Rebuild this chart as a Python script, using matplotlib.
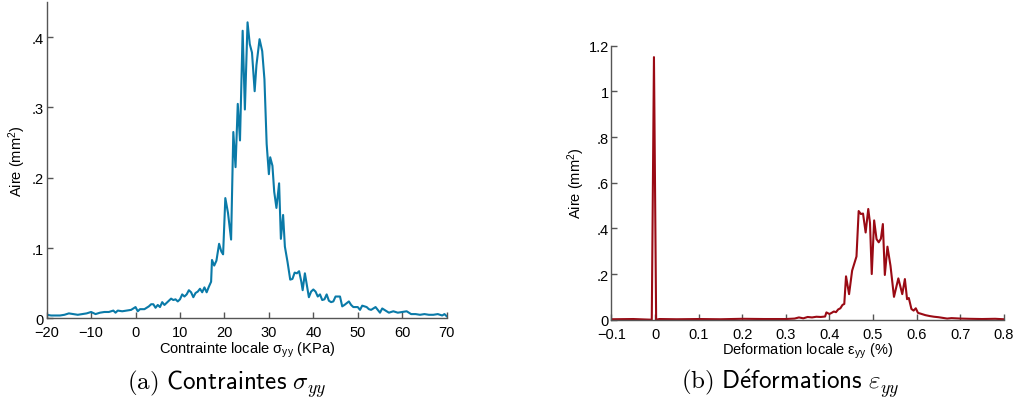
import numpy as np
import matplotlib
matplotlib.use("Agg")
import matplotlib.pyplot as plt

plt.rcParams['font.family'] = ['Liberation Sans', 'DejaVu Sans']
plt.rcParams['mathtext.fontset'] = 'custom'
plt.rcParams['mathtext.rm'] = 'Liberation Sans'
plt.rcParams['mathtext.it'] = 'Liberation Sans:italic'

# (a) contraintes
sig_x = [-20, -19, -18, -17, -16, -15, -14, -13, -12, -11, -10, -9, -8, -7, -6, -5, -4.5, -4, -3, -2, -1,
         0, 0.5, 1, 2, 3, 3.5, 4, 4.5, 5, 5.5, 6, 6.5, 7, 7.5, 8, 8.5, 9, 9.5, 10, 10.5, 11, 11.5,
         12, 12.5, 13, 13.5, 14, 14.5, 15, 15.5, 16, 16.5, 17, 17.2, 17.7, 18.2, 18.8, 19.3, 19.7,
         20.2, 20.8, 21.5, 22.0, 22.5, 23.0, 23.5, 24.1, 24.6, 25.2, 25.7, 26.2, 26.8, 27.2, 27.9,
         28.5, 29.0, 29.5, 30.0, 30.3, 30.8, 31.2, 31.7, 32.3, 32.7, 33.2, 33.6, 34.2, 34.8, 35.3,
         35.8, 36.3, 36.8, 37.3, 37.6, 38.1, 38.6, 39.0, 39.5, 40.0, 40.5, 41.0, 41.5, 42.0, 42.5,
         43.0, 43.5, 44.0, 44.5, 45.0, 46.0, 46.5, 47.0, 48.0, 48.5, 49.0, 50.0, 50.5, 51.0, 52.0,
         52.5, 53.0, 54.0, 54.5, 55.0, 55.5, 56.0, 57.0, 58.0, 59.0, 60.0, 61.0, 62.0, 63.0, 64.0,
         65.0, 66.0, 67.0, 68.0, 69.0, 69.5, 70.0]
sig_y = [0.005, 0.004, 0.004, 0.004, 0.005, 0.007, 0.006, 0.005, 0.006, 0.007, 0.009, 0.006, 0.008,
         0.009, 0.009, 0.011, 0.008, 0.011, 0.010, 0.011, 0.012,
         0.016, 0.010, 0.013, 0.013, 0.017, 0.020, 0.020, 0.015, 0.019, 0.016, 0.023, 0.019, 0.022,
         0.025, 0.028, 0.026, 0.027, 0.024, 0.027, 0.034, 0.031, 0.034,
         0.040, 0.037, 0.030, 0.036, 0.038, 0.042, 0.037, 0.044, 0.037, 0.045, 0.052, 0.083, 0.075,
         0.082, 0.106, 0.095, 0.091,
         0.171, 0.150, 0.112, 0.265, 0.215, 0.305, 0.253, 0.409, 0.297, 0.421, 0.390, 0.378, 0.323,
         0.360, 0.397,
         0.380, 0.340, 0.248, 0.205, 0.229, 0.217, 0.180, 0.157, 0.192, 0.113, 0.147, 0.102, 0.080,
         0.055, 0.056,
         0.065, 0.064, 0.067, 0.052, 0.040, 0.064, 0.045, 0.030, 0.038, 0.041, 0.038, 0.031, 0.034,
         0.026, 0.027,
         0.034, 0.025, 0.023, 0.024, 0.031, 0.031, 0.017, 0.019, 0.024, 0.019, 0.016, 0.016, 0.012,
         0.018, 0.016,
         0.013, 0.012, 0.016, 0.012, 0.008, 0.014, 0.012, 0.008, 0.010, 0.008, 0.009, 0.010, 0.006,
         0.006, 0.005,
         0.006, 0.005, 0.005, 0.006, 0.004, 0.006, 0.003]

# (b) deformations
eps_x = [-0.1, -0.05, -0.0075, -0.0025, 0.0025, 0.01, 0.05, 0.1, 0.15, 0.2, 0.25, 0.3, 0.32, 0.33,
         0.34, 0.35, 0.36, 0.37, 0.38, 0.39, 0.393, 0.40, 0.405, 0.41, 0.415, 0.42, 0.425, 0.43,
         0.434, 0.438, 0.445, 0.452, 0.462, 0.467, 0.472, 0.477, 0.483, 0.489, 0.493, 0.497, 0.5025,
         0.508, 0.513, 0.518, 0.5225, 0.527, 0.533, 0.540, 0.548, 0.558, 0.567, 0.573, 0.578, 0.582,
         0.588, 0.593, 0.598, 0.603, 0.61, 0.62, 0.63, 0.64, 0.65, 0.66, 0.67, 0.68, 0.70, 0.72,
         0.75, 0.78, 0.8]
eps_y = [0.002, 0.003, 0.0, 1.15, 0.0, 0.003, 0.002, 0.003, 0.002, 0.004, 0.003, 0.003, 0.005, 0.010,
         0.006, 0.012, 0.010, 0.013, 0.012, 0.014, 0.032, 0.025, 0.030, 0.036, 0.033, 0.045, 0.050,
         0.065, 0.069, 0.190, 0.112, 0.215, 0.277, 0.476, 0.463, 0.465, 0.382, 0.485, 0.423, 0.200,
         0.435, 0.353, 0.339, 0.355, 0.419, 0.196, 0.320, 0.236, 0.100, 0.181, 0.112, 0.178, 0.090,
         0.095, 0.047, 0.040, 0.050, 0.030, 0.026, 0.020, 0.016, 0.013, 0.011, 0.008, 0.005, 0.007,
         0.005, 0.004, 0.003, 0.004, 0.002]

sig_ticks = [0, 0.1, 0.2, 0.3, 0.4]
sig_labels = ['0', '.1', '.2', '.3', '.4']
eps_ticks = [0, 0.2, 0.4, 0.6, 0.8, 1.0, 1.2]
eps_labels = ['0', '.2', '.4', '.6', '.8', '1', '1.2']
eps_xlabels = ['−0.1', '0', '0.1', '0.2', '0.3', '0.4', '0.5', '0.6', '0.7', '0.8']

spine_col = '#555555'

fig = plt.figure(figsize=(10.14, 4.02), dpi=100)
ax1 = fig.add_axes([0.046, 0.2057, 0.3945, 0.787])
ax2 = fig.add_axes([0.603, 0.2022, 0.387, 0.6816])


def style(ax):
    for s in ['top', 'right']:
        ax.spines[s].set_visible(False)
    for s in ['left', 'bottom']:
        ax.spines[s].set_color(spine_col)
        ax.spines[s].set_linewidth(1.0)
    ax.tick_params(direction='in', length=4, width=1, color=spine_col,
                   labelsize=10.5, labelcolor='black')
    ax.tick_params(axis='x', pad=5)
    ax.tick_params(axis='y', pad=2)


ax1.plot(sig_x, sig_y, color='#0a7aa8', lw=1.5)
ax1.set_xlim(-20, 70)
ax1.set_ylim(0, 0.45)
ax1.set_xticks(np.arange(-20, 71, 10))
ax1.set_yticks(sig_ticks, sig_labels)
style(ax1)
ax1.set_xlabel(r'Contrainte locale σ$_{\mathrm{yy}}$ (KPa)', fontsize=10.5, labelpad=0)
ax1.set_ylabel(r'Aire (mm$^{\mathrm{2}}$)', fontsize=10.5, labelpad=3)

ax2.plot(eps_x, eps_y, color='#9a0a14', lw=1.5)
ax2.set_xlim(-0.1, 0.8)
ax2.set_ylim(0, 1.2)
ax2.set_xticks(np.round(np.arange(-0.1, 0.81, 0.1), 1))
ax2.set_xticklabels(eps_xlabels)
ax2.set_yticks(eps_ticks, eps_labels)
style(ax2)
ax2.set_xlabel(r'Deformation locale ε$_{\mathrm{yy}}$ (%)', fontsize=10.5, labelpad=0)
ax2.set_ylabel(r'Aire (mm$^{\mathrm{2}}$)', fontsize=10.5, labelpad=1)

fig.text(0.224, 0.03, r'$\mathrm{(a)}\ \mathsf{Contraintes}\ \sigma_{yy}$',
         fontsize=18, ha='center', va='baseline', math_fontfamily='cm')
fig.text(0.779, 0.03, r'$\mathrm{(b)}\ \mathsf{D\acute{e}formations}\ \varepsilon_{yy}$',
         fontsize=18, ha='center', va='baseline', math_fontfamily='cm')

fig.savefig('out.png', dpi=100)
